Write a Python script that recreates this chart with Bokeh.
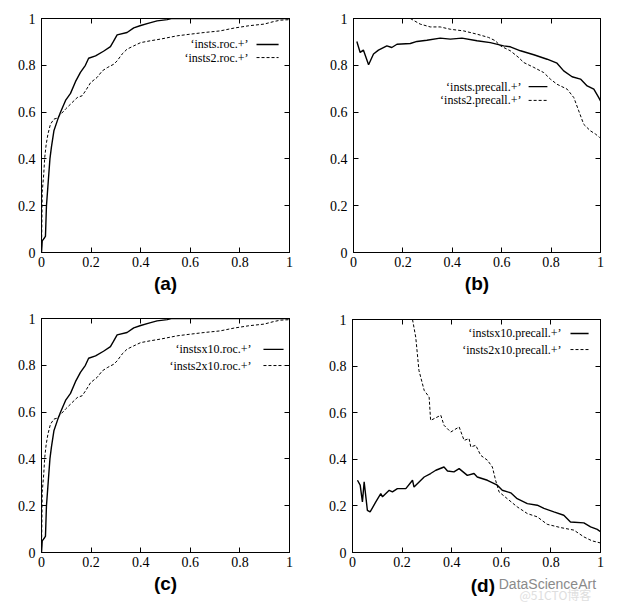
from bokeh.plotting import figure
from bokeh.layouts import column, row
from bokeh.models import Range1d, FixedTicker, LinearAxis, CustomJSTickFormatter, Label
from bokeh.embed import file_html
from bokeh.resources import INLINE

# ---------------- data ----------------
TICKS = [0, 0.2, 0.4, 0.6, 0.8, 1.0]

# (a) / (c) ROC curves
roc_insts_x = [0, 0.003, 0.013, 0.016, 0.02, 0.027, 0.034, 0.04, 0.05, 0.066, 0.077, 0.097,
               0.117, 0.137, 0.157, 0.177, 0.19, 0.218, 0.25, 0.278, 0.289, 0.305, 0.345,
               0.372, 0.4, 0.433, 0.466, 0.507, 0.523, 1.0]
roc_insts_y = [0, 0.05, 0.064, 0.07, 0.2, 0.3, 0.4, 0.45, 0.52, 0.57, 0.6, 0.65,
               0.68, 0.73, 0.77, 0.8, 0.83, 0.84, 0.86, 0.88, 0.9, 0.93, 0.94,
               0.96, 0.97, 0.98, 0.99, 0.995, 1.0, 1.0]
roc_insts2_x = [0, 0.003, 0.009, 0.013, 0.019, 0.026, 0.036, 0.05, 0.063, 0.077, 0.097, 0.117,
                0.144, 0.164, 0.177, 0.198, 0.224, 0.245, 0.265, 0.292, 0.305, 0.325, 0.345,
                0.372, 0.4, 0.44, 0.48, 0.547, 0.6, 0.655, 0.72, 0.776, 0.836, 0.897, 0.937,
                0.964, 1.0]
roc_insts2_y = [0, 0.26, 0.335, 0.406, 0.463, 0.506, 0.548, 0.57, 0.574, 0.59, 0.613, 0.634,
                0.662, 0.67, 0.69, 0.726, 0.748, 0.776, 0.79, 0.805, 0.819, 0.848, 0.869,
                0.883, 0.897, 0.905, 0.912, 0.926, 0.933, 0.94, 0.947, 0.959, 0.969, 0.976,
                0.987, 0.993, 0.995]

roc_instsx10_x = roc_insts_x
roc_instsx10_y = roc_insts_y
roc_insts2x10_x = roc_insts2_x
roc_insts2x10_y = roc_insts2_y

# (b) precision / recall
pr_insts_x = [0.0135, 0.027, 0.04, 0.061, 0.081, 0.101, 0.135, 0.155, 0.176, 0.23, 0.257, 0.297,
              0.351, 0.392, 0.439, 0.5, 0.554, 0.608, 0.635, 0.676, 0.73, 0.784, 0.824, 0.851,
              0.885, 0.919, 0.946, 0.973, 0.993, 1.0]
pr_insts_y = [0.902, 0.855, 0.865, 0.802, 0.848, 0.865, 0.883, 0.876, 0.89, 0.893, 0.902, 0.907,
              0.916, 0.912, 0.916, 0.905, 0.897, 0.883, 0.879, 0.862, 0.845, 0.826, 0.809, 0.776,
              0.751, 0.741, 0.712, 0.698, 0.662, 0.648]
pr_insts2_x = [0.23, 0.27, 0.311, 0.351, 0.392, 0.446, 0.5, 0.547, 0.574, 0.595, 0.635, 0.669,
               0.689, 0.73, 0.77, 0.797, 0.824, 0.865, 0.892, 0.912, 0.932, 0.959, 0.98, 0.997]
pr_insts2_y = [1.0, 0.976, 0.964, 0.964, 0.954, 0.947, 0.933, 0.919, 0.905, 0.883, 0.862, 0.833,
               0.812, 0.791, 0.769, 0.741, 0.719, 0.698, 0.662, 0.605, 0.548, 0.52, 0.506, 0.491]

# (d) precision / recall x10
pr_instsx10_x = [0.02, 0.031, 0.04, 0.047, 0.06, 0.071, 0.094, 0.114, 0.121, 0.148, 0.161, 0.181,
                 0.215, 0.242, 0.248, 0.289, 0.315, 0.336, 0.369, 0.383, 0.409, 0.43, 0.463,
                 0.49, 0.503, 0.544, 0.584, 0.604, 0.638, 0.664, 0.705, 0.745, 0.772, 0.812,
                 0.852, 0.879, 0.933, 0.96, 0.987, 1.0]
pr_instsx10_y = [0.31, 0.289, 0.217, 0.303, 0.181, 0.174, 0.217, 0.253, 0.239, 0.267, 0.26, 0.274,
                 0.274, 0.31, 0.281, 0.324, 0.339, 0.353, 0.367, 0.35, 0.346, 0.36, 0.331,
                 0.339, 0.324, 0.31, 0.289, 0.267, 0.256, 0.231, 0.21, 0.203, 0.189, 0.174,
                 0.16, 0.131, 0.127, 0.11, 0.099, 0.089]
pr_insts2x10_x = [0.242, 0.255, 0.268, 0.289, 0.309, 0.315, 0.356, 0.369, 0.396, 0.43, 0.45, 0.47,
                  0.477, 0.497, 0.517, 0.544, 0.564, 0.577, 0.591, 0.624, 0.664, 0.705, 0.745,
                  0.785, 0.839, 0.893, 0.933, 0.966, 1.0]
pr_insts2x10_y = [1.0, 0.924, 0.781, 0.696, 0.667, 0.567, 0.589, 0.546, 0.517, 0.539, 0.481, 0.489,
                  0.453, 0.46, 0.417, 0.396, 0.367, 0.31, 0.26, 0.231, 0.196, 0.167, 0.153,
                  0.121, 0.107, 0.096, 0.067, 0.05, 0.041]

SERIF = "Liberation Serif"
SANS = "Liberation Sans"
DASH = "3 2"
LABEL_SIZE = "19px"


def panel(w, h, bl, br, bt, bb, series, names, leg, label):
    p = figure(width=w, height=h, x_range=Range1d(0, 1), y_range=Range1d(0, 1),
               output_backend="svg", toolbar_location=None,
               min_border_left=bl, min_border_right=br, min_border_top=bt, min_border_bottom=bb,
               x_axis_location=None, y_axis_location=None)
    p.grid.visible = False
    p.outline_line_color = "black"
    p.outline_line_width = 1
    p.background_fill_color = "white"
    p.border_fill_color = "white"
    fmt = CustomJSTickFormatter(code="return (Math.round(tick*10)/10).toString();")
    for loc in ("below", "left", "above", "right"):
        ax = LinearAxis(ticker=FixedTicker(ticks=TICKS), formatter=fmt)
        ax.axis_line_color = "black"
        ax.major_tick_line_color = "black"
        ax.major_tick_in = 5
        ax.major_tick_out = 0
        ax.minor_tick_line_color = None
        ax.major_label_text_font = SERIF
        if loc in ("above", "right"):
            ax.major_label_text_font_size = "0px"
            ax.major_label_text_color = None
            ax.major_label_standoff = 0
        else:
            ax.major_label_text_color = "black"
            ax.major_label_text_font_size = "14px"
            ax.major_label_standoff = 4 if loc == "below" else 6
        if loc == "below" and label:
            ax.axis_label = label
            ax.axis_label_text_font = SANS
            ax.axis_label_text_font_style = "bold"
            ax.axis_label_text_font_size = LABEL_SIZE
            ax.axis_label_text_color = "black"
            ax.axis_label_standoff = 3
        p.add_layout(ax, loc)
    (tx, ty1, ty2, sx0, sx1) = leg
    for (xs, ys), name, dash, lw, ty in zip(series, names, ["solid", DASH], [1.4, 1.0], [ty1, ty2]):
        p.line(xs, ys, line_color="black", line_width=lw, line_dash=dash)
        p.add_layout(Label(x=tx, y=ty, text=name, text_align="right", text_baseline="middle",
                           text_font=SERIF, text_font_size="12px", text_color="black"))
        p.segment(x0=[sx0], y0=[ty], x1=[sx1], y1=[ty], line_color="black",
                  line_width=lw, line_dash=dash)
    return p


pa = panel(312, 300, 41, 23, 18, 48,
           [(roc_insts_x, roc_insts_y), (roc_insts2_x, roc_insts2_y)],
           ["\u2018insts.roc.+\u2019", "\u2018insts2.roc.+\u2019"],
           (0.835, 0.889, 0.833, 0.867, 0.956), "(a)")
pb = panel(312, 300, 41, 24, 18, 48,
           [(pr_insts_x, pr_insts_y), (pr_insts2_x, pr_insts2_y)],
           ["\u2018insts.precall.+\u2019", "\u2018insts2.precall.+\u2019"],
           (0.68, 0.709, 0.65, 0.709, 0.785), "(b)")
pc = panel(312, 308, 41, 23, 18, 56,
           [(roc_instsx10_x, roc_instsx10_y), (roc_insts2x10_x, roc_insts2x10_y)],
           ["\u2018instsx10.roc.+\u2019", "\u2018insts2x10.roc.+\u2019"],
           (0.847, 0.868, 0.799, 0.895, 0.976), "(c)")
pd_ = panel(312, 274, 40, 24, 19, 22,
            [(pr_instsx10_x, pr_instsx10_y), (pr_insts2x10_x, pr_insts2x10_y)],
            ["\u2018instsx10.precall.+\u2019", "\u2018insts2x10.precall.+\u2019"],
            (0.843, 0.94, 0.871, 0.879, 0.952), None)

# caption strip under panel (d): panel label plus the source watermark
strip = figure(width=312, height=34, x_range=Range1d(0, 312), y_range=Range1d(0, 34),
               output_backend="svg", toolbar_location=None,
               min_border_left=0, min_border_right=0, min_border_top=0, min_border_bottom=0,
               x_axis_location=None, y_axis_location=None)
strip.grid.visible = False
strip.outline_line_color = None
strip.add_layout(Label(x=164, y=23, text="(d)", text_align="center", text_baseline="middle",
                       text_font=SANS, text_font_style="bold", text_font_size=LABEL_SIZE,
                       text_color="black"))
strip.add_layout(Label(x=184, y=25, text="DataScienceArt", text_align="left",
                       text_baseline="middle", text_font=SANS, text_font_size="14px",
                       text_color="#8a8a8a"))
strip.add_layout(Label(x=210, y=14, text="@51CTO博客", text_align="left",
                       text_baseline="middle", text_font="Noto Sans CJK SC", text_font_size="12px",
                       text_color="#dedede"))

layout = column(row(pa, pb), row(pc, column(pd_, strip)))
open("out.html", "w").write(file_html(layout, INLINE))
